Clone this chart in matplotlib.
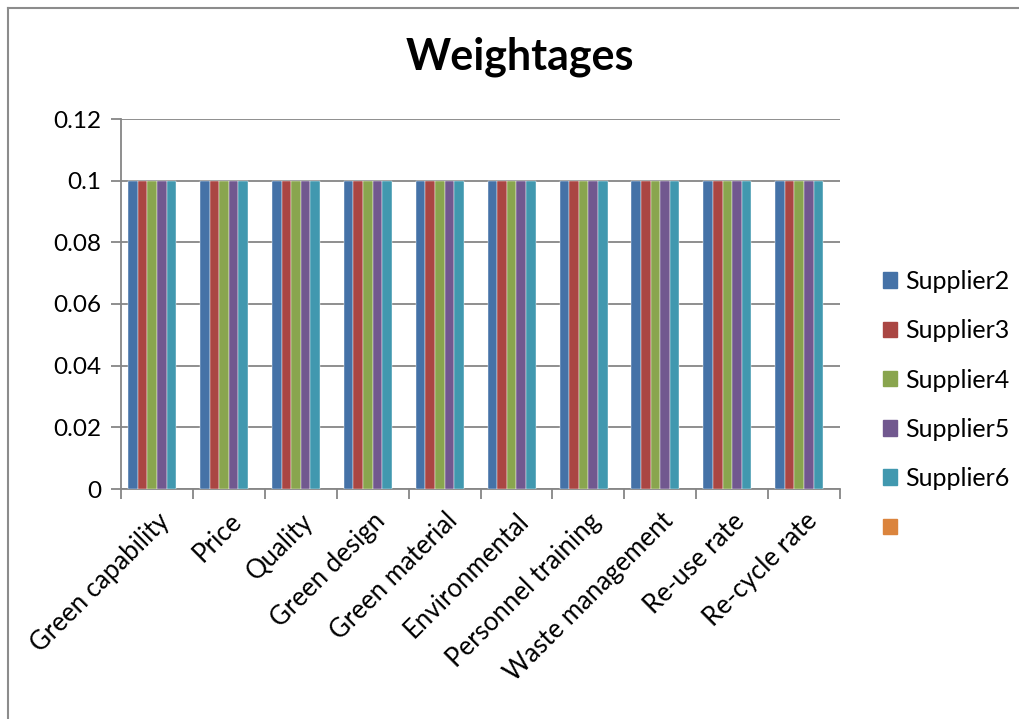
import matplotlib.pyplot as plt
import matplotlib.patches as mpatches
from matplotlib.lines import Line2D
import numpy as np

plt.rcParams['font.family'] = ['Lato', 'DejaVu Sans']

categories = ["Green capability", "Price", "Quality", "Green design", "Green material",
              "Environmental", "Personnel training", "Waste management", "Re-use rate", "Re-cycle rate"]
series_names = ["Supplier2", "Supplier3", "Supplier4", "Supplier5", "Supplier6", ""]
supplier2 = [0.1] * 10
supplier3 = [0.1] * 10
supplier4 = [0.1] * 10
supplier5 = [0.1] * 10
supplier6 = [0.1] * 10
empty_series = [np.nan] * 10   # 6th series in the sheet has no values
values = [supplier2, supplier3, supplier4, supplier5, supplier6, empty_series]
colors = ["#4572A7", "#AA4643", "#89A54E", "#71588F", "#4198AF", "#DB843D"]

fig = plt.figure(figsize=(10.2, 7.19), dpi=100)
# outer chart border, only left and top edges show in the original
bx, by = 8.5 / 1020, 1 - 7.5 / 719
fig.add_artist(Line2D([bx, bx], [0, by], transform=fig.transFigure, color="#8c8c8c", linewidth=1.5))
fig.add_artist(Line2D([bx, 1], [by, by], transform=fig.transFigure, color="#8c8c8c", linewidth=1.5))

ax = fig.add_axes([121 / 1020, 1 - 489 / 719, (840 - 121) / 1020, (489 - 119) / 719])

x = np.arange(len(categories))
w = 0.1335
for i, (name, vals, c) in enumerate(zip(series_names, values, colors)):
    ax.bar(x + (i - 2.5) * w, vals, width=w, color=c, edgecolor="white",
           linewidth=0.3, label=name, zorder=3)

ax.set_xlim(-0.5, len(categories) - 0.5)
ax.set_ylim(0, 0.12)
ax.set_yticks([0, 0.02, 0.04, 0.06, 0.08, 0.1, 0.12])
ax.set_yticklabels(["0", "0.02", "0.04", "0.06", "0.08", "0.1", "0.12"])
ax.yaxis.grid(True, color="#868686", linewidth=1.3, zorder=0)
ax.tick_params(axis='y', length=7, color="#868686", width=1.3, labelsize=17.5, pad=7)

ax.set_xticks(np.arange(-0.5, len(categories), 1.0))
ax.set_xticklabels([])
ax.set_xticks(x, minor=True)
ax.set_xticklabels(categories, minor=True, rotation=45, ha='right',
                   rotation_mode='anchor', fontsize=18.5)
ax.tick_params(axis='x', which='major', length=7, color="#868686", width=1.3)
ax.tick_params(axis='x', which='minor', length=0, pad=14)

for s in ['top', 'right']:
    ax.spines[s].set_visible(False)
for s in ['left', 'bottom']:
    ax.spines[s].set_color("#868686")
    ax.spines[s].set_linewidth(1.3)

fig.text(520 / 1020, 1 - 57 / 719, "Weightages", ha='center', va='center',
         fontsize=31, fontweight='bold')

leg_handles = [mpatches.Patch(color=c) for c in colors]
fig.legend(leg_handles, series_names, loc='upper left', bbox_to_anchor=(883 / 1020, 1 - 270 / 719),
           frameon=False, fontsize=18, handlelength=0.58, handleheight=0.58,
           handletextpad=0.3, labelspacing=1.05, borderpad=0, borderaxespad=0)

fig.savefig("out.png", dpi=100)
